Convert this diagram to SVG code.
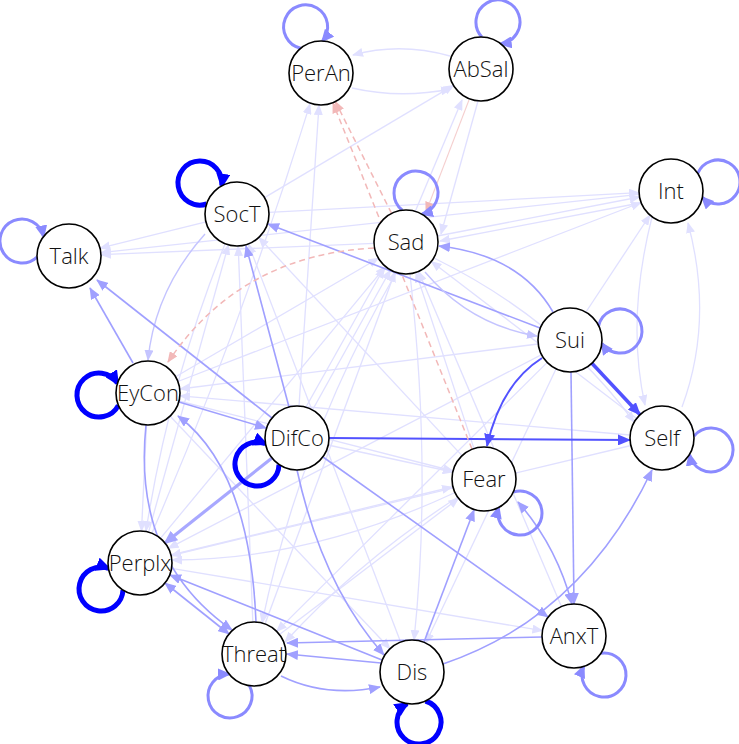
<svg xmlns="http://www.w3.org/2000/svg" width="739" height="744" viewBox="0 0 739 744">
<defs>
<style>
.e{fill:none}
.lt{stroke:#E0E0FF;stroke-width:1.3;marker-end:url(#a-lt)}
.ml{stroke:#C4C4FF;stroke-width:1.4;marker-end:url(#a-ml)}
.md{stroke:#A0A0FF;stroke-width:1.6;marker-end:url(#a-md)}
.md2{stroke:#A0A0FF;stroke-width:1.6;marker-end:url(#a-md);marker-start:url(#a-md)}
.st{stroke:#5252FF;stroke-width:2;marker-end:url(#a-st)}
.tk{stroke:#A8A8FF;stroke-width:3.2;marker-end:url(#a-tk)}
.rd{stroke:#F2B8B8;stroke-width:1.5;stroke-dasharray:6 4;marker-end:url(#a-rd)}
.rs{stroke:#F5CFCF;stroke-width:1.1;marker-end:url(#a-rd)}
.lp{stroke:#8A8AFF;stroke-width:3;marker-end:url(#a-lp)}
.ls{stroke:#0000FF;stroke-width:5;marker-end:url(#a-ls)}
.n circle{fill:#fff;stroke:#000;stroke-width:1.6}
.n text{font-family:"Open Sans","Liberation Sans",sans-serif;font-weight:300;font-size:22px;fill:#111;text-anchor:middle}
</style>
<marker id="a-lt" markerUnits="userSpaceOnUse" markerWidth="11" markerHeight="9" viewBox="0 0 11 9" refX="10" refY="4.5" orient="auto-start-reverse"><path d="M0,0L11,4.5L0,9z" fill="#E0E0FF"/></marker>
<marker id="a-ml" markerUnits="userSpaceOnUse" markerWidth="11" markerHeight="9" viewBox="0 0 11 9" refX="10" refY="4.5" orient="auto-start-reverse"><path d="M0,0L11,4.5L0,9z" fill="#C4C4FF"/></marker>
<marker id="a-md" markerUnits="userSpaceOnUse" markerWidth="12" markerHeight="10" viewBox="0 0 12 10" refX="11" refY="5" orient="auto-start-reverse"><path d="M0,0L12,5L0,10z" fill="#A0A0FF"/></marker>
<marker id="a-st" markerUnits="userSpaceOnUse" markerWidth="13" markerHeight="11" viewBox="0 0 13 11" refX="12" refY="5.5" orient="auto"><path d="M0,0L13,5.5L0,11z" fill="#5252FF"/></marker>
<marker id="a-tk" markerUnits="userSpaceOnUse" markerWidth="14" markerHeight="12" viewBox="0 0 14 12" refX="12" refY="6" orient="auto"><path d="M0,0L14,6L0,12z" fill="#A8A8FF"/></marker>
<marker id="a-rd" markerUnits="userSpaceOnUse" markerWidth="11" markerHeight="9" viewBox="0 0 11 9" refX="10" refY="4.5" orient="auto"><path d="M0,0L11,4.5L0,9z" fill="#F2B8B8"/></marker>
<marker id="a-lp" markerUnits="userSpaceOnUse" markerWidth="13" markerHeight="12" viewBox="0 0 13 12" refX="11" refY="6" orient="auto"><path d="M0,0L13,6L0,12z" fill="#8A8AFF"/></marker>
<marker id="a-ls" markerUnits="userSpaceOnUse" markerWidth="15" markerHeight="14" viewBox="0 0 15 14" refX="12" refY="7" orient="auto"><path d="M0,0L15,7L0,14z" fill="#0000FF"/></marker>
</defs>
<rect width="739" height="744" fill="#fff"/>
<g id="connectors">
<path class="e lt" d="M450,56 Q400,42 353,55"/>
<path class="e lt" d="M352,88 Q400,99 451,89"/>
<path class="e lt" d="M264.5,197.6 L453.5,85.4"/>
<path class="e lt" d="M299,406 L319,105"/>
<path class="e lt" d="M152,533 Q240,330 310,104"/>
<path class="e lt" d="M415,212 L462,100"/>
<path class="e lt" d="M478,101 L441,234"/>
<path class="e lt" d="M437.4,236 L639.6,197"/>
<path class="e lt" d="M640,203 L440,241"/>
<path class="e lt" d="M269,212.3 L639,192.7"/>
<path class="e lt" d="M177.9,381.5 L641,202.5"/>
<path class="e lt" d="M639,194.4 L101,252.6"/>
<path class="e lt" d="M374,243.3 L101,254.7"/>
<path class="e lt" d="M206,221.8 L100,248.2"/>
<path class="e ml" d="M205,234 Q155,290 148,360"/>
<path class="e lt" d="M538,344 L180,389"/>
<path class="e lt" d="M630,435 L180,395.8"/>
<path class="e lt" d="M541.6,354.7 L168.4,548.3"/>
<path class="e lt" d="M171.6,568.3 L542.4,630.7"/>
<path class="e lt" d="M454,493 Q310,560 172,560"/>
<path class="e lt" d="M312.5,410 L390.4,270"/>
<path class="e lt" d="M306,407 L384,268"/>
<path class="e lt" d="M160.4,538.4 L385.6,266.4"/>
<path class="e lt" d="M265,624 L395,272"/>
<path class="e lt" d="M175.6,376.8 L378.4,258.2"/>
<path class="e lt" d="M252.8,622 L238.2,246"/>
<path class="e lt" d="M148.6,532.2 L228.4,244.8"/>
<path class="e lt" d="M400.6,642 L248.4,243.9"/>
<path class="e lt" d="M462,455.6 L258.8,237.4"/>
<path class="e lt" d="M561.4,606.6 L418.5,271.4"/>
<path class="e lt" d="M474,448.6 L416,272.4"/>
<path class="e lt" d="M636.6,418.5 L431.4,261.5"/>
<path class="e lt" d="M434,258 Q560,320 634,422"/>
<path class="e lt" d="M652,217 Q626,320 645,405"/>
<path class="e lt" d="M682,407 Q714,320 688,223"/>
<path class="e lt" d="M586,312 L650,215"/>
<path class="e lt" d="M279.5,634.6 L458.5,498.4"/>
<path class="e lt" d="M171,555 L452,487"/>
<path class="e lt" d="M179,401 L453,471"/>
<path class="e lt" d="M170,416 L390,648.7"/>
<path class="e lt" d="M410,274 Q432,470 414,640"/>
<path class="e lt" d="M396,273 Q300,440 262,623"/>
<path class="e lt" d="M547,362.6 L276.7,631.4"/>
<path class="e lt" d="M556,369 L425.8,643"/>
<path class="e lt" d="M631,445.5 L171,555.5"/>
<path class="e lt" d="M328,445 L452.7,472"/>
<path class="e lt" d="M225,244 Q170,380 146,531"/>
<path class="e lt" d="M458,497 Q360,560 285,642"/>
<path class="e lt" d="M146.5,425 L141.5,531"/>
<path class="e md" d="M571,372 L574,604"/>
<path class="e md2" d="M518,502 Q556,545 572,604"/>
<path class="e md" d="M443,664 Q582,617 652,470"/>
<path class="e md" d="M424,642 L474,510"/>
<path class="e md" d="M323,457 L548,617"/>
<path class="e md" d="M542,637 L287,643"/>
<path class="e md" d="M381,663 L287,654"/>
<path class="e md" d="M281,676 Q326,698 380,687"/>
<path class="e md" d="M382,660 L170,575"/>
<path class="e md2" d="M165,583 L229,634"/>
<path class="e md" d="M256,622 Q250,470 178,416"/>
<path class="e md" d="M179,402 L266,428"/>
<path class="e md" d="M146,425 Q132,560 232,630"/>
<path class="e md" d="M297,470 Q322,585 384,655"/>
<path class="e md" d="M289,407 L246,246"/>
<path class="e md" d="M133,363 L90,288"/>
<path class="e md" d="M272,418 L97,280"/>
<path class="e md" d="M540,328 L268,224"/>
<path class="e md" d="M553,312 Q520,255 439,246"/>
<path class="e ml" d="M425,272 Q470,325 537,336"/>
<path class="e tk" d="M272,458 L165,543"/>
<path class="e st" style="stroke-width:3.5" d="M591.9,363.3 L640.1,414.7"/>
<path class="e st" d="M542,358 Q501,384 487,446"/>
<path class="e st" d="M329,438 L630,440"/>
<path class="e rd" d="M391.6,213.4 L335.4,101.6"/>
<path class="e rd" d="M472,449 L333,103"/>
<path class="e rs" d="M469,100 L426,212"/>
<path class="e rd" d="M374,248 Q240,255 168,362"/>
<path class="e lp" d="M300.7,48.3 A22,22 0 1 1 322.4,41.1"/>
<path class="e lp" d="M481.9,37 A22,22 0 1 1 500.7,43.8"/>
<path class="e lp" d="M37,257.1 A22,22 0 1 1 43.5,236.5"/>
<path class="e lp" d="M402.3,210.2 A22,22 0 1 1 421.9,214.2"/>
<path class="e lp" d="M697.7,173.4 A22,22 0 1 1 702.3,197.4"/>
<path class="e lp" d="M598.6,325.8 A22,22 0 1 1 601.8,343.4"/>
<path class="e lp" d="M694,436 A22,22 0 1 1 689.5,454.5"/>
<path class="e lp" d="M513.2,492.1 A22,22 0 1 1 498.7,507.4"/>
<path class="e lp" d="M601,653.2 A22,22 0 1 1 583.7,666.5"/>
<path class="e lp" d="M249.4,685.6 A22,22 0 1 1 229,674"/>
<path class="e ls" d="M206.7,204 A22,22 0 1 1 221.8,185.8"/>
<path class="e ls" d="M118.4,405.3 A22,22 0 1 1 117.5,383.2"/>
<path class="e ls" d="M279,464.5 A22,22 0 1 1 265.5,443.7"/>
<path class="e ls" d="M123,590 A22,22 0 1 1 108.5,568.3"/>
<path class="e ls" d="M425.5,701 A22,22 0 1 1 407,703.6"/>
</g>
<g id="node-PerAn" class="n"><circle cx="321" cy="73" r="32"/><text x="321" y="81">PerAn</text></g>
<g id="node-AbSal" class="n"><circle cx="481" cy="69" r="32"/><text x="481" y="77">AbSal</text></g>
<g id="node-SocT" class="n"><circle cx="237" cy="214" r="32"/><text x="237" y="222">SocT</text></g>
<g id="node-Talk" class="n"><circle cx="69" cy="256" r="32"/><text x="69" y="264">Talk</text></g>
<g id="node-Sad" class="n"><circle cx="406" cy="242" r="32"/><text x="406" y="250">Sad</text></g>
<g id="node-Int" class="n"><circle cx="671" cy="191" r="32"/><text x="671" y="199">Int</text></g>
<g id="node-Sui" class="n"><circle cx="570" cy="340" r="32"/><text x="570" y="348">Sui</text></g>
<g id="node-EyCon" class="n"><circle cx="148" cy="393" r="32"/><text x="148" y="401">EyCon</text></g>
<g id="node-DifCo" class="n"><circle cx="297" cy="438" r="32"/><text x="297" y="446">DifCo</text></g>
<g id="node-Self" class="n"><circle cx="662" cy="438" r="32"/><text x="662" y="446">Self</text></g>
<g id="node-Fear" class="n"><circle cx="484" cy="479" r="32"/><text x="484" y="487">Fear</text></g>
<g id="node-Perplx" class="n"><circle cx="140" cy="563" r="32"/><text x="140" y="571">Perplx</text></g>
<g id="node-Threat" class="n"><circle cx="254" cy="654" r="32"/><text x="254" y="662">Threat</text></g>
<g id="node-Dis" class="n"><circle cx="412" cy="672" r="32"/><text x="412" y="680">Dis</text></g>
<g id="node-AnxT" class="n"><circle cx="574" cy="636" r="32"/><text x="574" y="644">AnxT</text></g>
</svg>
